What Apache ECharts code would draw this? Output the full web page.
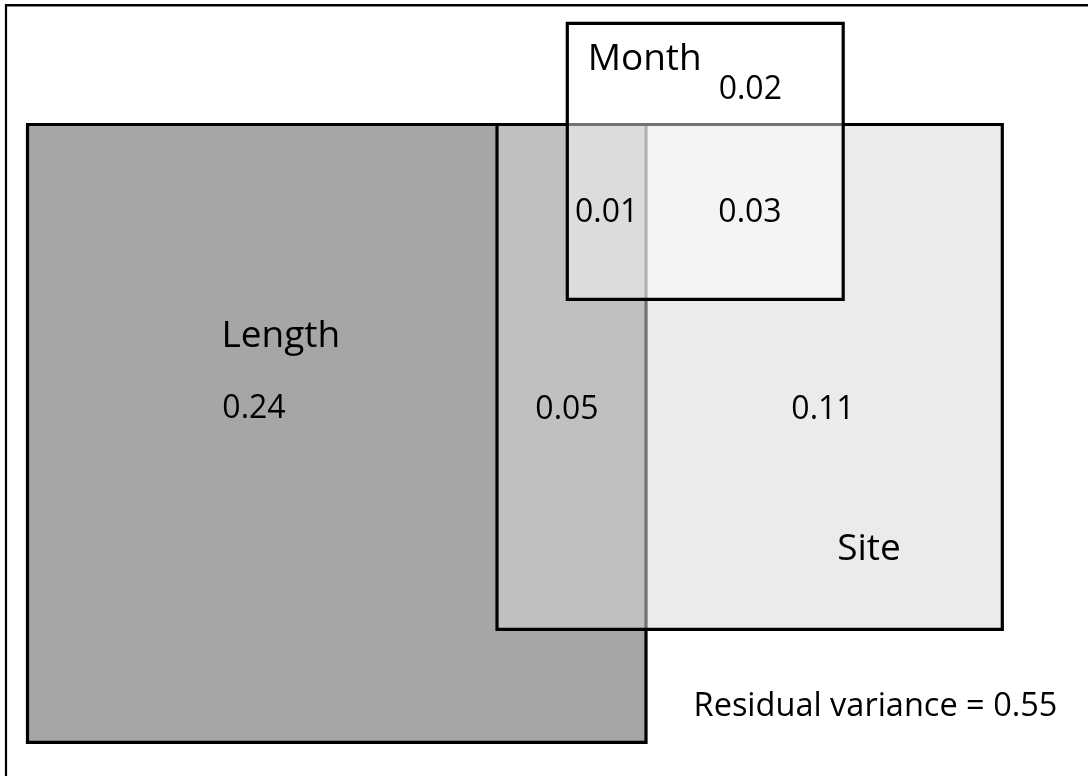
<!DOCTYPE html>
<html>
<head>
<meta charset="utf-8">
<script src="https://cdn.jsdelivr.net/npm/echarts@6/dist/echarts.min.js"></script>
<style>
html,body{margin:0;padding:0;background:#fff;}
#chart{width:1088px;height:776px;}
</style>
</head>
<body>
<div id="chart"></div>
<script>
// Sets (rectangles) in diagram units
const setNames = ['Length', 'Site', 'Month'];
const setX0 = [27.5, 497, 567.3];
const setX1 = [646, 1002.3, 843.2];
const setY0 = [124.5, 124.5, 23.3];
const setY1 = [742.3, 629.3, 299.3];

// Labels (text and anchor position in diagram units)
const labelText = ['Month', '0.02', '0.01', '0.03', 'Length', '0.24', '0.05', '0.11', 'Site', 'Residual variance = 0.55'];
const labelX = [644.7, 750.3, 606.7, 750, 280.8, 254, 567, 823, 869, 875.5];
const labelY = [59, 90, 213, 213, 336, 409, 410, 410, 549, 707];
const labelKind = ['name', 'value', 'value', 'value', 'name', 'value', 'value', 'value', 'name', 'resid'];

const fills = ['#a6a6a6', 'rgba(216,216,216,0.52)', 'rgba(255,255,255,0.45)'];
const fontSizes = {name: 37, value: 32, resid: 32.5};

const rectData = setNames.map((n, i) => [setX0[i], setY0[i], setX1[i], setY1[i], i]);
const textData = labelText.map((t, i) => [labelX[i], labelY[i], i]);

const chart = echarts.init(document.getElementById('chart'), null, {renderer: 'canvas'});
chart.setOption({
  animation: false,
  backgroundColor: '#ffffff',
  grid: {left: 0, right: 0, top: 0, bottom: 0},
  xAxis: {type: 'value', min: 0, max: 1088, show: false},
  yAxis: {type: 'value', min: 0, max: 776, inverse: true, show: false},
  graphic: [
    {type: 'line', shape: {x1: 6, y1: 5.2, x2: 1088, y2: 5.2}, style: {stroke: '#000', lineWidth: 2.4}, z: 100},
    {type: 'line', shape: {x1: 6, y1: 4, x2: 6, y2: 776}, style: {stroke: '#000', lineWidth: 2.2}, z: 100}
  ],
  series: [
    {
      type: 'custom',
      data: rectData,
      renderItem: function (params, api) {
        const p0 = api.coord([api.value(0), api.value(1)]);
        const p1 = api.coord([api.value(2), api.value(3)]);
        const idx = api.value(4);
        return {
          type: 'rect',
          shape: {x: p0[0], y: p0[1], width: p1[0] - p0[0], height: p1[1] - p0[1]},
          style: {fill: fills[idx], stroke: '#000', lineWidth: 3.2},
          z2: idx
        };
      },
      silent: true
    },
    {
      type: 'custom',
      data: textData,
      z: 10,
      renderItem: function (params, api) {
        const p = api.coord([api.value(0), api.value(1)]);
        const idx = api.value(2);
        return {
          type: 'text',
          x: p[0], y: p[1],
          style: {
            text: labelText[idx],
            fill: '#000',
            font: fontSizes[labelKind[idx]] + 'px "Open Sans"',
            align: 'center',
            verticalAlign: 'middle'
          }
        };
      },
      silent: true
    }
  ]
});
</script>
</body>
</html>
